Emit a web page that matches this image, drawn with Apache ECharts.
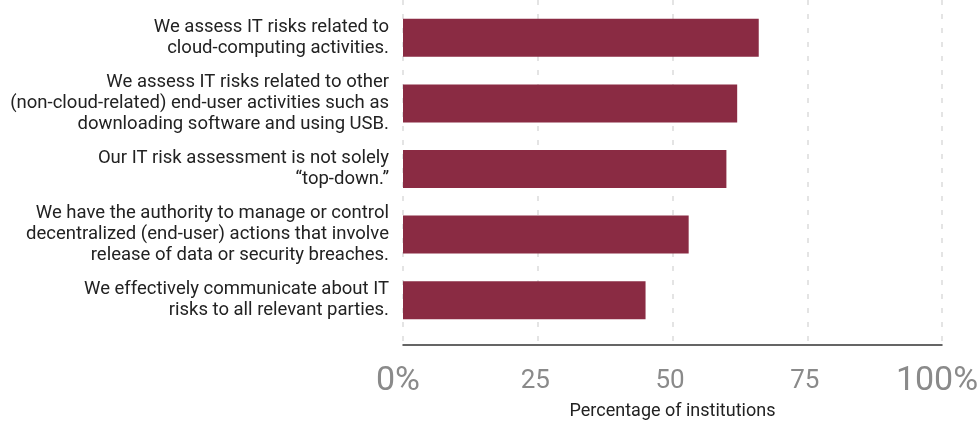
<!DOCTYPE html>
<html>
<head>
<meta charset="utf-8">
<script src="https://cdn.jsdelivr.net/npm/echarts@6/dist/echarts.min.js"></script>
<style>
  html, body { margin: 0; padding: 0; background: #ffffff; }
  #chart { width: 980px; height: 423px; }
</style>
</head>
<body>
<div id="chart"></div>
<script>
// Survey statements, top to bottom
const categories = [
  'We assess IT risks related to\ncloud-computing activities.',
  'We assess IT risks related to other\n(non-cloud-related) end-user activities such as\ndownloading software and using USB.',
  'Our IT risk assessment is not solely\n\u201ctop-down.\u201d',
  'We have the authority to manage or control\ndecentralized (end-user) actions that involve\nrelease of data or security breaches.',
  'We effectively communicate about IT\nrisks to all relevant parties.'
];
// Share of institutions agreeing (%)
const values = [66, 62, 60, 53, 45];
// Tick text on the percentage axis
const tickValues = [0, 25, 50, 75, 100];
const tickLabels = ['0%', '25', '50', '75', '100%'];

const FONT = 'Roboto, "Noto Sans", sans-serif';

const chart = echarts.init(document.getElementById('chart'), null, { renderer: 'canvas' });

chart.setOption({
  animation: false,
  backgroundColor: '#ffffff',
  grid: [
    // bars
    { left: 403, right: 38, top: 5, bottom: 90, containLabel: false, outerBoundsMode: 'none' },
    // scale, gridlines and axis line
    { left: 403, right: 38, top: 0, bottom: 78, containLabel: false, outerBoundsMode: 'none' }
  ],
  xAxis: [
    {
      gridIndex: 0, type: 'value', min: 0, max: 100, interval: 25,
      show: false
    },
    {
      gridIndex: 1, type: 'value', min: 0, max: 100, interval: 25,
      name: 'Percentage of institutions',
      nameLocation: 'middle',
      nameGap: 57,
      nameTextStyle: { fontFamily: FONT, fontSize: 18, color: '#222222' },
      axisLine: { show: true, lineStyle: { color: '#333333', width: 1.5 } },
      axisTick: { show: false },
      splitLine: {
        show: true,
        lineStyle: { color: '#e4e4e4', width: 2, type: [5, 9] }
      },
      axisLabel: {
        margin: 19,
        verticalAlign: 'top',
        formatter: function (v) {
          const i = tickValues.indexOf(v);
          const txt = i >= 0 ? tickLabels[i] : String(v);
          return (v === 0 || v === 100) ? '{big|' + txt + '}' : '{small|' + txt + '}';
        },
        rich: {
          big: { fontFamily: FONT, fontSize: 34, lineHeight: 34, color: '#8a8a8a', padding: [0, 10, 0, 0] },
          small: { fontFamily: FONT, fontSize: 26, lineHeight: 26, color: '#8a8a8a', padding: [8, 5, 0, 0] }
        }
      }
    }
  ],
  yAxis: [
    {
      gridIndex: 0, type: 'category', data: categories, inverse: true,
      axisLine: { show: false },
      axisTick: { show: false },
      axisLabel: {
        margin: 14,
        fontFamily: FONT, fontSize: 18.5, lineHeight: 21, color: '#222222',
        align: 'right'
      }
    },
    {
      gridIndex: 1, type: 'value', show: false
    }
  ],
  series: [
    {
      type: 'bar',
      xAxisIndex: 0, yAxisIndex: 0,
      data: values,
      barWidth: 38,
      itemStyle: { color: '#8a2b43' }
    }
  ]
});
</script>
</body>
</html>
